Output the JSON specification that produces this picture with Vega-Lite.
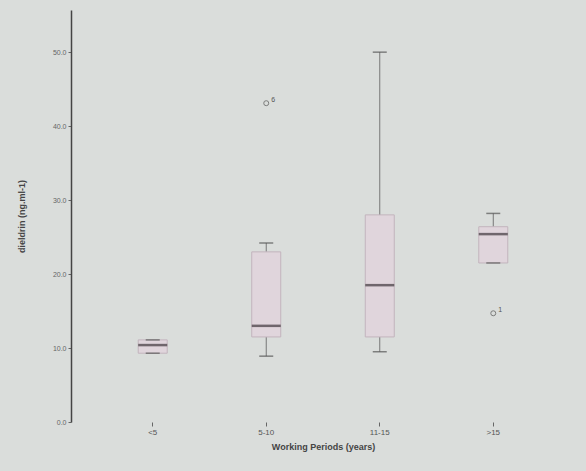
{
  "$schema": "https://vega.github.io/schema/vega-lite/v6.json",
  "autosize": "none",
  "width": 504,
  "height": 412,
  "padding": {"left": 71, "top": 10, "right": 11, "bottom": 49},
  "background": "#dadddb",
  "config": {"view": {"stroke": null}, "font": "Liberation Sans"},
  "datasets": {
    "boxes": [
      {"period": "<5", "min": 9.3, "q1": 9.3, "median": 10.4, "q3": 11.1, "max": 11.1},
      {"period": "5-10", "min": 8.9, "q1": 11.5, "median": 13.0, "q3": 23.0, "max": 24.2},
      {"period": "11-15", "min": 9.5, "q1": 11.5, "median": 18.5, "q3": 28.0, "max": 50.0},
      {"period": ">15", "min": 21.5, "q1": 21.5, "median": 25.4, "q3": 26.4, "max": 28.2}
    ],
    "outliers": [
      {"period": "5-10", "value": 43.1, "label": "6"},
      {"period": ">15", "value": 14.7, "label": "1"}
    ]
  },
  "encoding": {
    "x": {
      "field": "period", "type": "nominal",
      "sort": ["<5", "5-10", "11-15", ">15"],
      "scale": {"paddingOuter": 0.22, "paddingInner": 0},
      "axis": {
        "title": "Working Periods (years)", "domain": false, "labelAngle": 0,
        "tickColor": "#666", "tickSize": 4, "labelFontSize": 8, "labelColor": "#555",
        "titleFontSize": 9, "titleColor": "#444", "titleFontWeight": "bold", "titlePadding": 6
      }
    }
  },
  "layer": [
    {
      "data": {"name": "boxes"},
      "mark": {"type": "rule", "color": "#777", "strokeWidth": 1},
      "encoding": {
        "y": {
          "field": "min", "type": "quantitative",
          "scale": {"domain": [0, 55.7], "nice": false, "zero": false},
          "axis": {
            "title": "dieldrin (ng.ml-1)", "values": [0, 10, 20, 30, 40, 50], "format": ".1f",
            "grid": false, "domainColor": "#444", "domainWidth": 1.5, "tickColor": "#666", "tickSize": 3,
            "labelFontSize": 7, "labelColor": "#666", "titleFontSize": 9, "titleColor": "#444",
            "titleFontWeight": "bold", "titlePadding": 26
          }
        },
        "y2": {"field": "max"}
      }
    },
    {
      "data": {"name": "boxes"},
      "mark": {"type": "bar", "size": 29, "fill": "#e0d5dc", "stroke": "#c2b4bd", "strokeWidth": 1},
      "encoding": {
        "y": {"field": "q1", "type": "quantitative"},
        "y2": {"field": "q3"}
      }
    },
    {
      "data": {"name": "boxes"},
      "mark": {"type": "tick", "size": 29, "thickness": 2.5, "color": "#3e363c"},
      "encoding": {"y": {"field": "median", "type": "quantitative"}}
    },
    {
      "data": {"name": "boxes"},
      "mark": {"type": "tick", "size": 14, "thickness": 1.5, "color": "#555"},
      "encoding": {"y": {"field": "max", "type": "quantitative"}}
    },
    {
      "data": {"name": "boxes"},
      "mark": {"type": "tick", "size": 14, "thickness": 1.5, "color": "#555"},
      "encoding": {"y": {"field": "min", "type": "quantitative"}}
    },
    {
      "data": {"name": "outliers"},
      "mark": {"type": "point", "shape": "circle", "filled": false, "size": 25, "color": "#555", "strokeWidth": 1},
      "encoding": {"y": {"field": "value", "type": "quantitative"}}
    },
    {
      "data": {"name": "outliers"},
      "mark": {"type": "text", "dx": 7, "dy": -3, "fontSize": 7, "color": "#555"},
      "encoding": {"y": {"field": "value", "type": "quantitative"}, "text": {"field": "label"}}
    }
  ]
}
